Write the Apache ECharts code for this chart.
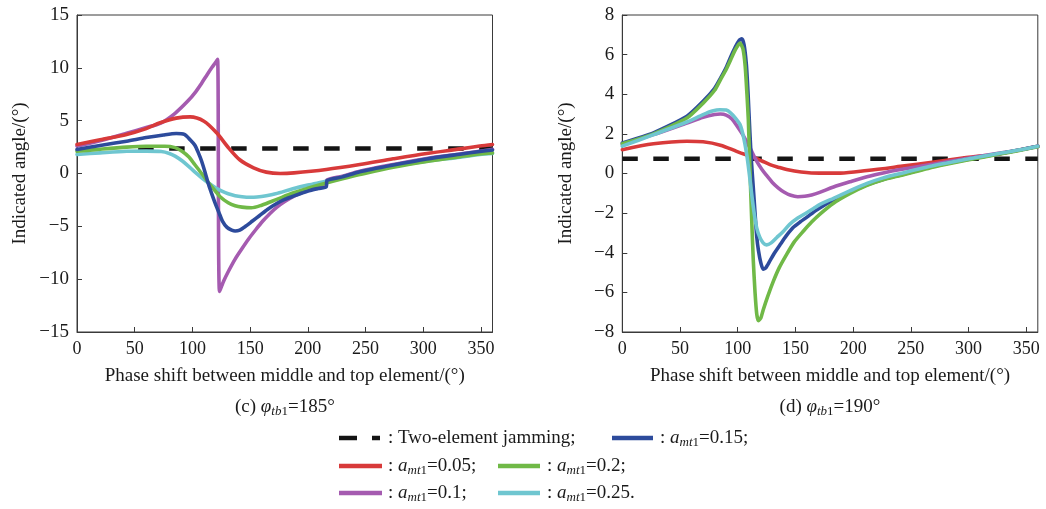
<!DOCTYPE html>
<html><head><meta charset="utf-8">
<script src="https://cdn.jsdelivr.net/npm/echarts@6/dist/echarts.min.js"></script>
<style>html,body{margin:0;padding:0;background:#fff}#c{width:1046px;height:509px}</style>
</head><body><div id="c"></div>
<script>
// ---------- data: panel (c) phi_tb1 = 185 deg ----------
const c_jam_x = [53, 360];
const c_jam_y = [2.37, 2.37];
const c_red_x = [0, 20, 43, 60, 72, 86, 98, 110, 121, 130, 141, 153, 164, 176, 188, 216, 245, 274, 303, 332, 349, 360];
const c_red_y = [2.75, 3.2, 3.7, 4.25, 4.8, 5.24, 5.36, 4.95, 3.85, 2.6, 1.3, 0.54, 0.13, 0.0, 0.06, 0.38, 0.85, 1.39, 1.9, 2.33, 2.6, 2.75];
const c_purple_x = [0, 20, 43, 60, 73, 85, 96, 103, 108, 113, 117, 120, 121.8, 123.5, 127, 131, 137, 143, 149, 155, 161, 167, 173, 180, 188, 195, 202, 209, 215, 216.5, 230, 245, 274, 303, 332, 349, 360];
const c_purple_y = [2.6, 3.1, 3.8, 4.35, 4.8, 5.7, 6.85, 7.75, 8.55, 9.4, 10.05, 10.5, 10.8, -11.16, -10.2, -9.3, -8.1, -7.1, -6.15, -5.3, -4.5, -3.8, -3.2, -2.65, -2.15, -1.8, -1.52, -1.32, -1.18, -0.62, -0.25, 0.22, 0.85, 1.42, 1.85, 2.1, 2.3];
const c_blue_x = [0, 20, 43, 60, 75, 86, 93, 98, 102, 105, 108, 111, 114, 117, 120, 123, 126, 130, 134, 137, 141, 146, 152, 158, 165, 173, 180, 188, 195, 202, 209, 216, 216.5, 230, 245, 274, 303, 332, 349, 360];
const c_blue_y = [2.27, 2.65, 3.06, 3.4, 3.65, 3.78, 3.7, 3.2, 2.7, 2.0, 1.16, 0.1, -1.04, -2.0, -2.9, -3.7, -4.5, -5.1, -5.35, -5.44, -5.35, -5.0, -4.5, -4.0, -3.4, -2.84, -2.45, -2.12, -1.85, -1.6, -1.42, -1.26, -0.68, -0.32, 0.16, 0.8, 1.38, 1.83, 2.08, 2.23];
const c_green_x = [0, 20, 43, 60, 76, 85, 91, 97, 102, 108, 114, 119, 124, 131, 137, 143, 151, 160, 172, 187, 200, 216, 230, 245, 274, 303, 332, 349, 360];
const c_green_y = [2.1, 2.3, 2.5, 2.58, 2.58, 2.45, 2.1, 1.55, 0.85, 0.0, -0.88, -1.55, -2.2, -2.77, -3.05, -3.18, -3.24, -3.0, -2.5, -1.85, -1.4, -0.9, -0.5, -0.1, 0.6, 1.15, 1.6, 1.85, 1.95];
const c_cyan_x = [0, 20, 43, 60, 73, 80, 85, 91, 96, 102, 108, 114, 120, 126, 131, 137, 143, 150, 156, 164, 172, 187, 200, 216, 230, 245, 274, 303, 332, 349, 360];
const c_cyan_y = [1.8, 1.95, 2.1, 2.12, 2.08, 1.9, 1.64, 1.2, 0.75, 0.15, -0.4, -0.9, -1.35, -1.7, -1.92, -2.1, -2.2, -2.25, -2.22, -2.1, -1.92, -1.45, -1.1, -0.73, -0.35, 0.06, 0.7, 1.17, 1.55, 1.8, 1.9];

// ---------- data: panel (d) phi_tb1 = 190 deg ----------
const d_jam_x = [0, 360];
const d_jam_y = [0.75, 0.75];
const d_red_x = [0, 27, 56, 70, 85, 99, 106, 113.5, 121, 128, 135, 142.4, 155, 171, 189, 212, 241, 270, 298, 327, 345, 360];
const d_red_y = [1.2, 1.5, 1.63, 1.6, 1.43, 1.12, 0.97, 0.82, 0.63, 0.45, 0.32, 0.2, 0.08, 0.02, 0.02, 0.15, 0.36, 0.58, 0.8, 1.0, 1.2, 1.38];
const d_purple_x = [0, 27, 56, 70, 80, 85, 90, 95, 100, 105, 110.6, 116.4, 121, 125, 130, 135, 140, 146, 152, 158, 164, 171, 183, 197, 212, 226, 241, 270, 298, 327, 345, 360];
const d_purple_y = [1.46, 1.96, 2.55, 2.84, 2.98, 3.0, 2.95, 2.75, 2.35, 1.9, 1.29, 0.62, 0.2, -0.1, -0.45, -0.72, -0.93, -1.1, -1.17, -1.15, -1.08, -0.95, -0.68, -0.42, -0.16, 0.03, 0.2, 0.48, 0.76, 1.03, 1.2, 1.36];
const d_blue_x = [0, 27, 56, 70, 80, 85, 90, 94, 98, 101, 103.5, 105.5, 107.5, 109, 110.5, 112, 113.5, 115, 116.5, 118, 120, 122, 124.5, 128, 132, 137, 142, 148, 154, 160, 168, 183, 197, 212, 226, 241, 270, 298, 327, 345, 360];
const d_blue_y = [1.54, 2.05, 2.89, 3.64, 4.3, 4.8, 5.35, 5.9, 6.4, 6.7, 6.8, 6.5, 5.5, 4.0, 2.1, 0.5, -0.72, -2.0, -3.2, -3.9, -4.5, -4.83, -4.75, -4.4, -4.0, -3.57, -3.15, -2.73, -2.45, -2.2, -1.85, -1.33, -0.95, -0.57, -0.3, -0.07, 0.37, 0.7, 1.0, 1.2, 1.37];
const d_green_x = [0, 27, 56, 70, 80, 85, 90, 94, 98, 102, 104.5, 106.5, 108, 109.2, 110.6, 112.1, 113.5, 115, 116.5, 118, 120, 122, 126, 131, 136, 142.4, 149, 157, 164, 171, 183, 197, 212, 226, 241, 270, 298, 327, 345, 360];
const d_green_y = [1.5, 2.0, 2.8, 3.55, 4.2, 4.73, 5.25, 5.75, 6.25, 6.58, 6.3, 5.4, 4.0, 2.7, 0.2, -2.3, -4.4, -6.0, -7.1, -7.43, -7.3, -6.9, -6.2, -5.42, -4.75, -4.08, -3.45, -2.9, -2.45, -2.06, -1.5, -1.02, -0.6, -0.32, -0.1, 0.33, 0.67, 0.98, 1.18, 1.35];
const d_cyan_x = [0, 27, 56, 70, 78, 84.6, 90, 94, 98, 102, 105, 107.8, 110, 112, 114, 116.4, 119, 122, 125, 129, 133.7, 139, 145, 152, 159.7, 166, 171.3, 183, 197, 212, 226, 241, 270, 298, 327, 345, 360];
const d_cyan_y = [1.38, 1.96, 2.6, 2.97, 3.15, 3.22, 3.2, 3.05, 2.8, 2.47, 1.85, 0.96, 0.0, -1.0, -1.9, -2.73, -3.2, -3.5, -3.6, -3.5, -3.24, -2.95, -2.57, -2.25, -1.98, -1.75, -1.56, -1.25, -0.88, -0.5, -0.22, 0.0, 0.4, 0.72, 1.02, 1.2, 1.38];

// ---------- axes / labels ----------
const xTickInterval = 50;
const xMin = 0, xMax = 360;
const c_yMin = -15, c_yMax = 15, c_yInterval = 5;
const d_yMin = -8, d_yMax = 8, d_yInterval = 2;
const xAxisName = 'Phase shift between middle and top element/(°)';
const yAxisName = 'Indicated angle/(°)';
const legendLabels = ['Two-element jamming;', '0.05;', '0.1;', '0.15;', '0.2;', '0.25.'];
const captionAngles = ['185°', '190°'];

const COLORS = {jam:'#141414', red:'#d83a3a', purple:'#a55bb0', blue:'#2d4b9c', green:'#70b947', cyan:'#6fc6d0'};
const FONT = '"Liberation Serif", "Times New Roman", serif';
const TXT = '#1a1a1a';

function pairs(xs, ys){ return xs.map((x,i)=>[x, ys[i]]); }
function minusFmt(v){ return String(v).replace('-', '\u2212'); }

function lineSeries(idx, xs, ys, color, opts){
  return Object.assign({
    type:'line', xAxisIndex: idx, yAxisIndex: idx,
    data: pairs(xs, ys), symbol:'none', showSymbol:false,
    smooth: 0.3, lineStyle:{color: color, width: 3.6, cap:'round', join:'round'},
    itemStyle:{color: color}, animation:false, silent:true
  }, opts || {});
}
function jamSeries(idx, xs, ys){
  return {type:'line', xAxisIndex: idx, yAxisIndex: idx, data: pairs(xs, ys), symbol:'none',
    lineStyle:{color: COLORS.jam, width: 4.5, type:[15.5, 15.5]}, animation:false, silent:true, z:1};
}

const grids = [
  {left: 77, top: 15, width: 415.5, height: 317, show:true, borderColor:'#3a3a3a', borderWidth:1},
  {left: 622.3, top: 15, width: 415.5, height: 317, show:true, borderColor:'#3a3a3a', borderWidth:1}
];

function makeX(idx){
  return {type:'value', gridIndex: idx, min: xMin, max: xMax, interval: xTickInterval,
    name: xAxisName, nameLocation:'middle', nameGap: 35,
    nameTextStyle:{fontFamily: FONT, fontSize: 19, color: TXT},
    axisLine:{show:true, onZero:false, lineStyle:{color:'#3a3a3a', width:1}},
    axisTick:{show:true, inside:true, length:5, lineStyle:{color:'#3a3a3a'}},
    axisLabel:{fontFamily: FONT, fontSize: 18, color: TXT, margin: 8, showMaxLabel:false},
    splitLine:{show:false}};
}
function makeY(idx, mn, mx, itv){
  return {type:'value', gridIndex: idx, min: mn, max: mx, interval: itv,
    name: yAxisName, nameLocation:'middle', nameGap: 47, nameRotate: 90,
    nameTextStyle:{fontFamily: FONT, fontSize: 19, color: TXT},
    axisLine:{show:true, onZero:false, lineStyle:{color:'#3a3a3a', width:1}},
    axisTick:{show:true, inside:true, length:5, lineStyle:{color:'#3a3a3a'}},
    axisLabel:{fontFamily: FONT, fontSize: 19, color: TXT, margin: 8, formatter: minusFmt},
    splitLine:{show:false}};
}

const richBase = {
  i:{fontFamily: FONT, fontSize: 19, fontStyle:'italic', color: TXT, lineHeight: 22},
  s:{fontFamily: FONT, fontSize: 13, fontStyle:'italic', color: TXT, lineHeight: 13, verticalAlign:'bottom'},
  u:{fontFamily: FONT, fontSize: 13, color: TXT, lineHeight: 13, verticalAlign:'bottom'}
};
function richText(x, y, text, align){
  return {type:'text', x: x, y: y, silent:true, style:{text: text, fontFamily: FONT, fontSize: 19, fill: TXT,
    lineHeight: 22, align: align || 'left', verticalAlign:'middle', rich: richBase}};
}
function seg(x1, x2, y, color){
  return {type:'line', silent:true, shape:{x1:x1, y1:y, x2:x2, y2:y}, style:{stroke: color, lineWidth: 4.5}};
}
const rows = [438, 466, 493];
const graphic = [
  richText(284.9, 407, '(c) {i|φ}{s|tb}{u|1}=' + captionAngles[0], 'center'),
  richText(830, 407, '(d) {i|φ}{s|tb}{u|1}=' + captionAngles[1], 'center'),
  seg(339, 357, rows[0], COLORS.jam), seg(372, 380, rows[0], COLORS.jam),
  richText(388, rows[0], ': ' + legendLabels[0]),
  seg(612, 653, rows[0], COLORS.blue), richText(660, rows[0], ': {i|a}{s|mt}{u|1}=' + legendLabels[3]),
  seg(339, 382, rows[1], COLORS.red), richText(388, rows[1], ': {i|a}{s|mt}{u|1}=' + legendLabels[1]),
  seg(498, 540, rows[1], COLORS.green), richText(547, rows[1], ': {i|a}{s|mt}{u|1}=' + legendLabels[4]),
  seg(339, 382, rows[2], COLORS.purple), richText(388, rows[2], ': {i|a}{s|mt}{u|1}=' + legendLabels[2]),
  seg(498, 540, rows[2], COLORS.cyan), richText(547, rows[2], ': {i|a}{s|mt}{u|1}=' + legendLabels[5])
];

const series = [
  jamSeries(0, c_jam_x, c_jam_y),
  lineSeries(0, c_purple_x, c_purple_y, COLORS.purple, {smooth:0.3, z:2}),
  lineSeries(0, c_cyan_x, c_cyan_y, COLORS.cyan, {z:3}),
  lineSeries(0, c_green_x, c_green_y, COLORS.green, {z:4}),
  lineSeries(0, c_blue_x, c_blue_y, COLORS.blue, {smooth:0.25, z:5}),
  lineSeries(0, c_red_x, c_red_y, COLORS.red, {z:6}),
  jamSeries(1, d_jam_x, d_jam_y),
  lineSeries(1, d_red_x, d_red_y, COLORS.red, {z:2}),
  lineSeries(1, d_purple_x, d_purple_y, COLORS.purple, {z:3}),
  lineSeries(1, d_blue_x, d_blue_y, COLORS.blue, {smooth:0.2, z:4}),
  lineSeries(1, d_green_x, d_green_y, COLORS.green, {smooth:0.2, z:5}),
  lineSeries(1, d_cyan_x, d_cyan_y, COLORS.cyan, {smooth:0.25, z:6})
];

const chart = echarts.init(document.getElementById('c'), null, {renderer:'canvas'});
chart.setOption({
  backgroundColor:'#ffffff', animation:false,
  grid: grids,
  xAxis: [makeX(0), makeX(1)],
  yAxis: [makeY(0, c_yMin, c_yMax, c_yInterval), makeY(1, d_yMin, d_yMax, d_yInterval)],
  series: series,
  graphic: graphic
});
</script></body></html>
